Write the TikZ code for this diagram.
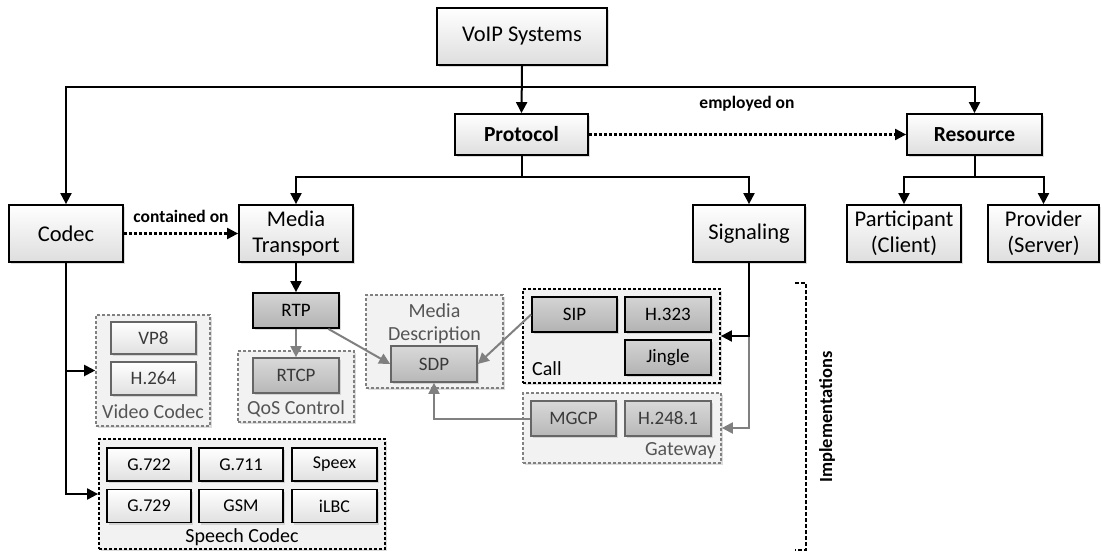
\documentclass[tikz,border=0pt]{standalone}
\usepackage{fontspec}
\setmainfont{Carlito}
\usetikzlibrary{arrows.meta,shadows}

\definecolor{linegray}{HTML}{808080}
\definecolor{boxgray}{HTML}{666666}
\definecolor{panel}{HTML}{F2F2F2}
\definecolor{labelgray}{HTML}{555555}
\definecolor{textgray}{HTML}{3A3A3A}

\tikzset{
  softshadow/.style={drop shadow={shadow xshift=2.2pt,shadow yshift=-2.2pt,opacity=0.3,fill=black!45}},
  mainbox/.style={draw=black, line width=1.8pt, top color=white, bottom color=black!13,
    softshadow, minimum width=#1, minimum height=57pt, inner sep=0pt, align=center,
    font=\fontsize{22.5}{26}\selectfont},
  headbox/.style={mainbox=#1, minimum height=41pt, font=\fontsize{21.5}{26}\selectfont\bfseries},
  darkitem/.style={draw=black, line width=1.8pt, top color=black!17, bottom color=black!30,
    softshadow, minimum width=#1, minimum height=35pt, inner sep=0pt,
    font=\fontsize{19}{22}\selectfont},
  grayitem/.style={draw=boxgray, line width=1.7pt, top color=black!15, bottom color=black!28,
    softshadow, minimum width=#1, minimum height=35pt, inner sep=0pt, text=textgray,
    font=\fontsize{19}{22}\selectfont},
  lightitem/.style={draw=boxgray, line width=1.7pt, top color=white, bottom color=black!12,
    softshadow, minimum width=#1, minimum height=32pt, inner sep=0pt, text=textgray,
    font=\fontsize{19}{22}\selectfont},
  whiteitem/.style={draw=black, line width=1.8pt, top color=white, bottom color=black!12,
    softshadow, minimum width=#1, minimum height=33pt, inner sep=0pt,
    font=\fontsize{18}{22}\selectfont},
  graypanel/.style={draw=linegray, line width=1.6pt, dash pattern=on 3pt off 2pt,
    fill=panel, softshadow, inner sep=0pt},
  blackpanel/.style={draw=black, line width=1.8pt, dash pattern=on 3pt off 2pt,
    fill=panel, softshadow, inner sep=0pt},
  graylabel/.style={text=labelgray, inner sep=0pt, font=\fontsize{20}{23}\selectfont},
  blacklabel/.style={text=black, inner sep=0pt, font=\fontsize{20}{23}\selectfont},
  edgelabel/.style={inner sep=0pt, font=\fontsize{17.5}{21}\selectfont\bfseries},
  arrow/.style={draw=black, line width=2pt, -{Triangle[length=11pt,width=11pt]}},
  grayarrow/.style={draw=linegray, line width=2pt, -{Triangle[length=11pt,width=11pt]}},
  dotarrow/.style={draw=black, line width=2.1pt, dash pattern=on 3pt off 2pt,
    -{Triangle[length=11pt,width=11pt]}},
  bracketline/.style={draw=black, line width=2.6pt, dash pattern=on 4pt off 2pt}
}

\begin{document}
\begin{tikzpicture}[x=1pt,y=-1pt]
\useasboundingbox (0,0) rectangle (1102,551);

% ---------- grouping panels ----------
\node[graypanel, minimum width=114pt, minimum height=111pt] (video) at (153,370.5) {};
\node[blackpanel, minimum width=286pt, minimum height=110pt] (speech) at (242,494) {};
\node[graypanel, minimum width=116pt, minimum height=71pt] (qos) at (296,386.5) {};
\node[graypanel, minimum width=137pt, minimum height=93pt] (mediadesc) at (434.5,341.5) {};
\node[blackpanel, minimum width=197pt, minimum height=94pt] (call) at (621.5,336) {};
\node[graypanel, minimum width=198pt, minimum height=70pt] (gateway) at (622,428) {};

\node[graylabel] (videolbl) at (153,412) {Video Codec};
\node[blacklabel] (speechlbl) at (242,537) {Speech Codec};
\node[graylabel] (qoslbl) at (296,409) {QoS Control};
\node[graylabel] (mdlbl1) at (434.5,311) {Media};
\node[graylabel] (mdlbl2) at (434.5,335) {Description};
\node[blacklabel, anchor=west] (calllbl) at (532,369) {Call};
\node[graylabel, anchor=east] (gwlbl) at (716,451) {Gateway};

% ---------- top level ----------
\node[mainbox=170pt] (voip) at (522,36.5) {VoIP Systems};
\node[headbox=133pt] (protocol) at (521.5,134.5) {Protocol};
\node[headbox=135pt] (resource) at (974.5,134.5) {Resource};
\node[mainbox=114pt] (codec) at (66,233.5) {Codec};
\node[mainbox=114pt] (media) at (296,233.5) {Media\\Transport};
\node[mainbox=112pt] (signaling) at (749,233.5) {Signaling};
\node[mainbox=114pt] (participant) at (904,233.5) {Participant\\(Client)};
\node[mainbox=111pt] (provider) at (1043.5,233.5) {Provider\\(Server)};

% ---------- implementations ----------
\node[lightitem=85pt] (vp8) at (153.5,338) {VP8};
\node[lightitem=85pt, minimum height=33pt] (h264) at (153.5,378.5) {H.264};

\node[whiteitem=84pt] (g722) at (149,464.5) {G.722};
\node[whiteitem=84pt] (g711) at (241,464.5) {G.711};
\node[whiteitem=85pt] (speex) at (334.5,464.5) {Speex};
\node[whiteitem=84pt] (g729) at (149,506) {G.729};
\node[whiteitem=84pt] (gsm) at (241,506) {GSM};
\node[whiteitem=85pt] (ilbc) at (334.5,506) {iLBC};

\node[darkitem=86pt] (rtp) at (296,310.5) {RTP};
\node[grayitem=86pt] (rtcp) at (296,375.5) {RTCP};
\node[grayitem=86pt, minimum height=36pt] (sdp) at (434,364) {SDP};

\node[darkitem=85pt] (sip) at (574.5,314.5) {SIP};
\node[darkitem=86pt] (h323) at (668,314.5) {H.323};
\node[darkitem=86pt] (jingle) at (668,357.5) {Jingle};

\node[grayitem=85pt] (mgcp) at (573.5,418.5) {MGCP};
\node[grayitem=86pt] (h248) at (668,418.5) {H.248.1};

% ---------- hierarchy connectors ----------
\coordinate (topbus) at (522,87);
\draw[arrow] (voip.south) -- (protocol.north);
\draw[arrow] (voip.south) -- (topbus) -| (codec.north);
\draw[arrow] (voip.south) -- (topbus) -| (resource.north);

\coordinate (protobus) at (521.5,177);
\draw[arrow] (protocol.south) -- (protobus) -| (media.north);
\draw[arrow] (protocol.south) -- (protobus) -| (signaling.north);

\coordinate (resbus) at (974.5,177);
\draw[arrow] (resource.south) -- (resbus) -| (participant.north);
\draw[arrow] (resource.south) -- (resbus) -| (provider.north);

% ---------- relations ----------
\draw[dotarrow] (protocol.east) -- (resource.west);
\node[edgelabel] (employed) at (747,104) {employed on};
\draw[dotarrow] (codec.east) -- (media.west);
\node[edgelabel] (contained) at (181,216) {contained on};

\draw[arrow] (codec.south) |- (video.west);
\draw[arrow] (codec.south) |- (speech.west);

\draw[arrow] (media.south) -- (rtp.north);
\draw[grayarrow] (rtp.south) -- (rtcp.north);
\draw[grayarrow] (rtp) -- (sdp.west);
\draw[grayarrow] (sip.west) -- (sdp.east);
\draw[grayarrow] (mgcp.west) -| (sdp.south);

\draw[grayarrow] (signaling.south) |- (gateway.east);
\draw[arrow] (signaling.south) |- (call.east);

% ---------- implementations bracket ----------
\draw[bracketline] (795,283) -- (806,283) -- (806,550) -- (795,550);
\node[edgelabel, rotate=90, font=\fontsize{18.5}{22}\selectfont\bfseries] (impl) at (827,417) {Implementations};

\end{tikzpicture}
\end{document}
